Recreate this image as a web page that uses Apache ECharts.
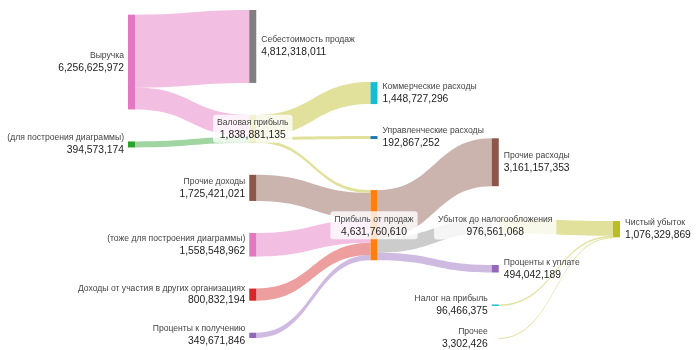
<!DOCTYPE html>
<html>
<head>
<meta charset="utf-8">
<script src="https://cdn.jsdelivr.net/npm/echarts@6/dist/echarts.min.js"></script>
<style>
  html, body { margin: 0; background: #fff; }
  #chart { width: 700px; height: 350px; }
</style>
</head>
<body>
<div id="chart"></div>
<script>
// узлы диаграммы
const nodeNames = [
  'Выручка',
  '(для построения диаграммы)',
  'Себестоимость продаж',
  'Валовая прибыль',
  'Доходы от участия в других организациях',
  'Проценты к получению',
  'Прочие доходы',
  '(тоже для построения диаграммы)',
  'Коммерческие расходы',
  'Управленческие расходы',
  'Прибыль от продаж',
  'Проценты к уплате',
  'Прочие расходы',
  'Убыток до налогообложения',
  'Налог на прибыль',
  'Прочее',
  'Чистый убыток'
]
const nodeDepths = [0, 0, 1, 1, 1, 1, 1, 1, 2, 2, 2, 3, 3, 3, 3, 3, 4]
const nodeColors = [
  '#e377c2', '#2ca02c', '#7f7f7f', '#bcbd22', '#d62728', '#9467bd', '#8c564b', '#e377c2',
  '#17becf', '#1f77b4', '#ff7f0e', '#9467bd', '#8c564b', 'rgba(0,0,0,0)', '#17becf', '#bcbd22', '#bcbd22'
]

// потоки
const linkSources = [0, 0, 1, 3, 3, 3, 4, 5, 6, 7, 10, 10, 10, 13, 14, 15]
const linkTargets = [2, 3, 3, 8, 9, 10, 10, 10, 10, 10, 11, 12, 13, 16, 16, 16]
const linkValues = [
  4812318011, 1444307961, 394573174,
  1448727296, 192867252, 197286587,
  800832194, 349671846, 1725421021, 1558548962,
  494042189, 3161157353, 976561068,
  976561068, 96466375, 3302426
]
const linkColors = [
  'rgba(227,119,194,0.48)', 'rgba(227,119,194,0.48)', 'rgba(44,160,44,0.45)',
  'rgba(188,189,34,0.45)', 'rgba(188,189,34,0.45)', 'rgba(188,189,34,0.45)',
  'rgba(214,39,40,0.45)', 'rgba(148,103,189,0.45)', 'rgba(140,86,75,0.45)', 'rgba(227,119,194,0.48)',
  'rgba(148,103,189,0.45)', 'rgba(140,86,75,0.45)', 'rgba(127,127,127,0.4)',
  'rgba(188,189,34,0.45)', 'rgba(188,189,34,0.45)', 'rgba(188,189,34,0.45)'
]

const font = 'Liberation Sans, Arial, sans-serif'

// источники - подпись слева, стоки - справа, промежуточные - по центру на подложке
function labelFor (i) {
  const hasIn = linkTargets.includes(i)
  const hasOut = linkSources.includes(i)
  if (!hasIn) return { position: 'left', distance: 4, align: 'right' }
  if (!hasOut) return { position: 'right', distance: 5, align: 'left' }
  return {
    position: 'inside', align: 'center',
    backgroundColor: 'rgba(255,255,255,0.8)', borderRadius: 3, padding: [2, 4, 1, 4]
  }
}

const nodes = nodeNames.map((name, i) => {
  const l = labelFor(i)
  return {
    name,
    depth: nodeDepths[i],
    itemStyle: { color: nodeColors[i] },
    label: {
      position: l.position,
      distance: l.distance,
      backgroundColor: l.backgroundColor,
      borderRadius: l.borderRadius,
      padding: l.padding,
      rich: {
        n: { fontSize: 8.6, color: '#444', fontFamily: font, lineHeight: 12, align: l.align },
        v: { fontSize: 10.3, color: '#222', fontFamily: font, lineHeight: 13, align: l.align }
      }
    }
  }
})

const links = linkValues.map((value, i) => ({
  source: nodeNames[linkSources[i]],
  target: nodeNames[linkTargets[i]],
  value,
  lineStyle: { color: linkColors[i], opacity: 1 }
}))

const myChart = echarts.init(document.getElementById('chart'))
myChart.setOption({
  backgroundColor: '#fff',
  animation: false,
  series: [{
    type: 'sankey',
    left: 128,
    right: 80,
    top: 10,
    bottom: 12,
    nodeWidth: 7,
    nodeGap: 32,
    layoutIterations: 32,
    draggable: false,
    emphasis: { disabled: true },
    label: {
      formatter: p => '{n|' + p.name + '}\n{v|' + Number(p.value).toLocaleString('en-US') + '}'
    },
    lineStyle: { curveness: 0.5 },
    data: nodes,
    links
  }]
})
</script>
</body>
</html>
